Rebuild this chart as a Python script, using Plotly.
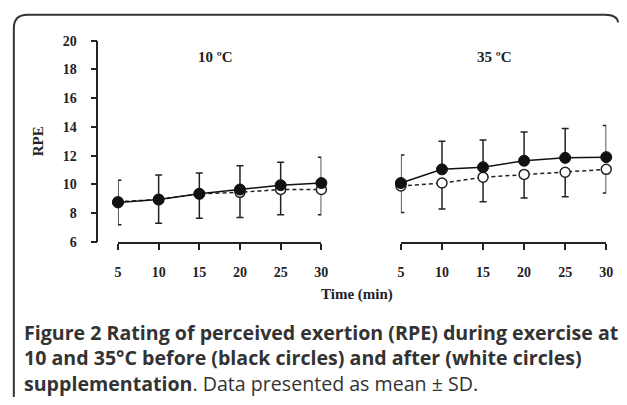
import plotly.graph_objects as go

W, H = 627, 405

time_min = [5, 10, 15, 20, 25, 30]
x_ticks = [5, 10, 15, 20, 25, 30]
y_ticks = [6, 8, 10, 12, 14, 16, 18, 20]

# 10 °C
cold_before = [8.75, 8.95, 9.35, 9.65, 9.95, 10.1]
cold_before_sd = [1.55, 1.7, 1.45, 1.65, 1.6, 1.8]
cold_after = [8.8, 8.95, 9.35, 9.45, 9.65, 9.65]
cold_after_sd = [1.6, 1.65, 1.7, 1.75, 1.75, 1.75]

# 35 °C
hot_before = [10.1, 11.05, 11.2, 11.65, 11.85, 11.9]
hot_before_sd = [1.95, 1.95, 1.9, 2.0, 2.05, 2.2]
hot_after = [9.9, 10.1, 10.5, 10.7, 10.85, 11.05]
hot_after_sd = [1.85, 1.8, 1.7, 1.65, 1.7, 1.65]

panel_titles = ["10 ºC", "35 ºC"]


def px(x):
    return x / W


def py(y):
    return 1 - y / H


fig = go.Figure()

panels = [
    ("x", cold_before, cold_before_sd, cold_after, cold_after_sd),
    ("x2", hot_before, hot_before_sd, hot_after, hot_after_sd),
]
zeros = [0] * len(time_min)
for xa, before, bsd, after, asd in panels:
    # after supplementation: white circles, dashed line, SD downwards
    fig.add_trace(go.Scatter(
        x=time_min, y=after, xaxis=xa, yaxis="y", mode="lines+markers",
        line=dict(color="#222", width=1.5, dash="4px,3px"),
        marker=dict(color="white", size=10, line=dict(color="#222", width=1.5)),
        error_y=dict(type="data", symmetric=False, array=zeros, arrayminus=asd,
                     color="#222", thickness=1.5, width=3.5),
        cliponaxis=False, showlegend=False, hoverinfo="skip"))
    # before supplementation: black circles, solid line, SD upwards
    fig.add_trace(go.Scatter(
        x=time_min, y=before, xaxis=xa, yaxis="y", mode="lines+markers",
        line=dict(color="#111", width=1.5),
        marker=dict(color="#111", size=11, line=dict(color="#111", width=1)),
        error_y=dict(type="data", symmetric=False, array=bsd, arrayminus=zeros,
                     color="#222", thickness=1.5, width=3.5),
        cliponaxis=False, showlegend=False, hoverinfo="skip"))

tick_font = dict(family="Liberation Serif", size=14, color="#222", weight="bold")
common_x = dict(range=[5, 30], tickvals=x_ticks, ticks="outside", ticklen=6,
                tickwidth=1.5, tickcolor="#222", showline=True, linecolor="#222",
                linewidth=1.5, showgrid=False, zeroline=False, tickfont=tick_font,
                ticklabelstandoff=10, fixedrange=True)

fig.update_layout(
    width=W, height=H, margin=dict(l=0, r=0, t=0, b=0),
    paper_bgcolor="white", plot_bgcolor="rgba(0,0,0,0)",
    xaxis=dict(domain=[px(116), px(323)], anchor="y", **common_x),
    xaxis2=dict(domain=[px(404), px(613)], anchor="y", **common_x),
    yaxis=dict(domain=[py(244), py(35)], range=[6, 20], tickvals=y_ticks,
               anchor="free", position=px(95), ticks="outside", ticklen=6,
               tickwidth=1.5, tickcolor="#222", showline=True, linecolor="#222",
               linewidth=1.5, showgrid=False, zeroline=False, tickfont=tick_font,
               ticklabelstandoff=11, fixedrange=True),
)

bold_serif = dict(family="Liberation Serif", size=15, color="#222")
fig.add_annotation(text="<b>RPE</b>", x=px(34), y=py(139), xref="paper", yref="paper",
                   xanchor="center", yanchor="middle",
                   textangle=-90, showarrow=False, font=bold_serif)
fig.add_annotation(text="<b>Time (min)</b>", x=px(359), y=py(299), xref="paper",
                   yref="paper", xanchor="center", yanchor="middle",
                   showarrow=False, font=bold_serif)
for title, cx in zip(panel_titles, [215, 499]):
    fig.add_annotation(text="<b>" + title + "</b>", x=px(cx), y=py(52), xref="paper",
                       yref="paper", xanchor="center", yanchor="middle",
                       showarrow=False, font=bold_serif)

caption_lines = [
    "<b>Figure 2 Rating of perceived exertion (RPE) during exercise at</b>",
    "<b>10 and 35°C before (black circles) and after (white circles)</b>",
    "<b>supplementation</b>. Data presented as mean ± SD.",
]
fig.add_annotation(text="<br>".join(caption_lines), x=px(18), y=py(364),
                   xref="paper", yref="paper", xanchor="left", yanchor="middle",
                   align="left", showarrow=False,
                   font=dict(family="Open Sans", size=19.6, color="#333"))

# rounded frame around the figure
frame = (f"M {px(10)},{py(405)} L {px(10)},{py(22)} "
         f"Q {px(10)},{py(8)} {px(24)},{py(8)} L {px(612)},{py(8)} "
         f"Q {px(624)},{py(8)} {px(625)},{py(16)}")
fig.add_shape(type="path", path=frame, xref="paper", yref="paper",
              line=dict(color="#333", width=2))

fig.write_html("out.html", config={"displayModeBar": False},
               post_script="document.body.style.margin='0';"
                           "document.body.style.overflow='hidden';")
